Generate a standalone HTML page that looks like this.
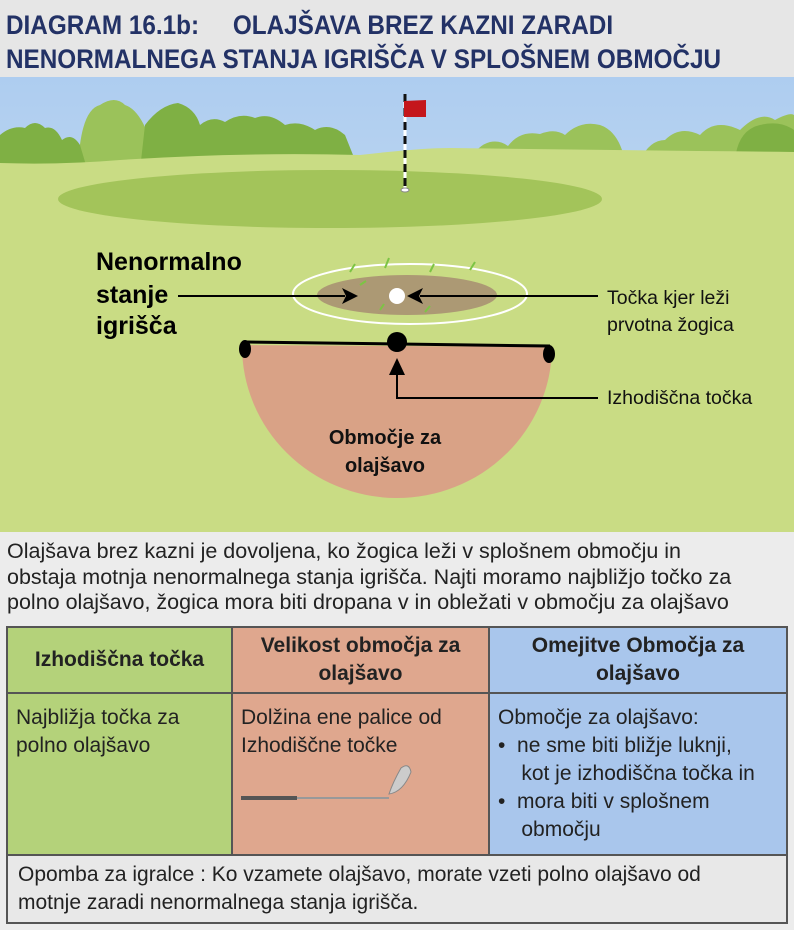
<!DOCTYPE html>
<html><head><meta charset="utf-8"><style>
body{margin:0;width:794px;height:930px;overflow:hidden;background:#ececec;font-family:"Liberation Sans",sans-serif;}
.hdrbg{position:absolute;left:0;top:0;width:794px;height:77px;background:#e6e6e6}
.hdr{position:absolute;left:6px;top:8px;white-space:nowrap;color:#233266;font-weight:bold;font-size:27px;line-height:34px;transform:scaleX(0.9);transform-origin:0 0}
.para{position:absolute;left:7px;top:539px;font-size:21.5px;line-height:25.5px;color:#222;white-space:nowrap}
table{position:absolute;left:6px;top:626px;width:782px;border-collapse:collapse;font-size:21px;color:#222;table-layout:fixed}
td{border:2px solid #555;vertical-align:top;padding:0}
.h td{height:64px;text-align:center;font-weight:bold;font-size:21px;line-height:28px;vertical-align:middle}
.b td{height:133px;padding:10px 8px;line-height:28px}
.g{background:#b4d27a}.s{background:#dfa78e}.bl{background:#a9c6ec}
.f td{background:#e8e8e8;height:52px;padding:5px 10px;line-height:28px}
</style></head><body>
<div class="hdrbg"></div>
<div class="hdr">DIAGRAM 16.1b:&nbsp;&nbsp;&nbsp;&nbsp; OLAJŠAVA BREZ KAZNI ZARADI<br>NENORMALNEGA STANJA IGRIŠČA V SPLOŠNEM OBMOČJU</div>
<svg style="position:absolute;left:0;top:77px" width="794" height="455" viewBox="0 77 794 455">
<defs><linearGradient id="sky" x1="0" y1="0" x2="0" y2="1"><stop offset="0" stop-color="#aecdf0"/><stop offset="1" stop-color="#d6e6f2"/></linearGradient></defs>
<rect x="0" y="77" width="794" height="455" fill="url(#sky)"/>
<path d="M78,170 Q80,110 100,105 Q115,95 125,105 Q140,110 150,140 L150,170Z" fill="#9bc25a"/>
<path d="M640,160 Q650,140 665,140 Q680,125 700,135 Q715,118 740,130 Q760,110 775,120 Q790,112 794,115 L794,160Z" fill="#9bc25a"/>
<path d="M0,172 L0,135 Q12,125 25,128 Q35,118 45,128 Q55,125 62,140 Q72,132 80,145 L88,172Z" fill="#7fb044"/>
<path d="M140,170 L145,125 Q160,105 178,103 Q195,108 200,125 Q212,115 225,122 Q240,112 255,118 Q270,112 285,125 Q300,120 315,130 Q330,122 345,135 L357,165Z" fill="#7fb044"/>
<path d="M470,160 Q478,145 490,142 Q500,140 508,146 Q520,130 540,134 Q555,128 565,135 Q580,120 600,125 Q615,130 622,150 L622,160Z" fill="#9bc25a"/>
<path d="M735,160 Q738,130 760,125 Q780,120 794,130 L794,160Z" fill="#7fb044"/>
<path d="M0,163 Q60,165 120,160 Q240,152 360,155 Q420,148 450,148 Q600,150 794,152 L794,532 L0,532Z" fill="#c9dc84"/>
<ellipse cx="330" cy="199" rx="272" ry="29" fill="#a3c45a"/>
<line x1="405" y1="94" x2="405" y2="190" stroke="#fff" stroke-width="3"/>
<line x1="405" y1="94" x2="405" y2="190" stroke="#111" stroke-width="3" stroke-dasharray="8,6"/>
<ellipse cx="405" cy="190" rx="4" ry="2" fill="#fff" stroke="#888"/>
<path d="M404,101 L426,100 L426,117 L404,117Z" fill="#c4161c"/>
<ellipse cx="410" cy="294" rx="117" ry="30" fill="none" stroke="#fff" stroke-width="2"/>
<ellipse cx="407" cy="295" rx="90" ry="20" fill="#a89172" opacity="0.9"/>
<g stroke="#7cc444" stroke-width="2"><path d="M350,272 l5,-8 M385,268 l4,-10 M430,272 l4,-8 M470,270 l5,-8 M380,310 l4,-6 M425,312 l5,-6 M360,285 l6,-4"/></g>
<circle cx="397" cy="296" r="8" fill="#fff"/>
<line x1="178" y1="296" x2="345" y2="296" stroke="#000" stroke-width="2"/>
<path d="M358,296 L342,288 L346,296 L342,304Z" fill="#000"/>
<line x1="420" y1="296" x2="598" y2="296" stroke="#000" stroke-width="2"/>
<path d="M407,296 L423,288 L419,296 L423,304Z" fill="#000"/>
<path d="M242,345 A155,152 0 0 0 552,347Z" fill="#d9a286"/>
<line x1="246" y1="342" x2="550" y2="346" stroke="#000" stroke-width="3"/>
<ellipse cx="245" cy="349" rx="6" ry="9" fill="#000"/>
<ellipse cx="549" cy="354" rx="6" ry="9" fill="#000"/>
<circle cx="397" cy="342" r="10" fill="#000"/>
<path d="M397,358 L389,375 L405,375Z" fill="#000"/>
<polyline points="397,372 397,398 598,398" fill="none" stroke="#000" stroke-width="2"/>
<g font-family="Liberation Sans,sans-serif" font-weight="bold" font-size="25" fill="#000"><text x="96" y="270">Nenormalno</text><text x="96" y="303">stanje</text><text x="96" y="334">igrišča</text></g>
<g font-family="Liberation Sans,sans-serif" font-weight="bold" font-size="20" fill="#111" text-anchor="middle"><text x="385" y="444">Območje za</text><text x="385" y="472">olajšavo</text></g>
<g font-family="Liberation Sans,sans-serif" font-size="19.5" fill="#111"><text x="607" y="304">Točka kjer leži</text><text x="607" y="331">prvotna žogica</text><text x="607" y="404">Izhodiščna točka</text></g>
</svg>
<div class="para">Olajšava brez kazni je dovoljena, ko žogica leži v splošnem območju in<br>obstaja motnja nenormalnega stanja igrišča. Najti moramo najbližjo točko za<br>polno olajšavo, žogica mora biti dropana v in obležati v območju za olajšavo</div>
<table>
<colgroup><col style="width:225px"><col style="width:257px"><col></colgroup>
<tr class="h"><td class="g">Izhodiščna točka</td><td class="s">Velikost območja za<br>olajšavo</td><td class="bl">Omejitve Območja za<br>olajšavo</td></tr>
<tr class="b"><td class="g">Najbližja točka za<br>polno olajšavo</td><td class="s">Dolžina ene palice od<br>Izhodiščne točke
<svg width="175" height="40" style="display:block;margin-top:4px"><rect x="0" y="32" width="56" height="4" fill="#555"/><rect x="56" y="33" width="92" height="2" fill="#999"/><path d="M148,30 Q162,28 170,8 Q168,-2 160,4 Q152,18 148,30Z" fill="#ccc" stroke="#888"/></svg></td>
<td class="bl" style="white-space:nowrap">Območje za olajšavo:<br>•&nbsp; ne sme biti bližje luknji,<br>&nbsp;&nbsp;&nbsp; kot je izhodiščna točka in<br>•&nbsp; mora biti v splošnem<br>&nbsp;&nbsp;&nbsp; območju</td></tr>
<tr class="f"><td colspan="3">Opomba za igralce : Ko vzamete olajšavo, morate vzeti polno olajšavo od<br>motnje zaradi nenormalnega stanja igrišča.</td></tr>
</table>
</body></html>
